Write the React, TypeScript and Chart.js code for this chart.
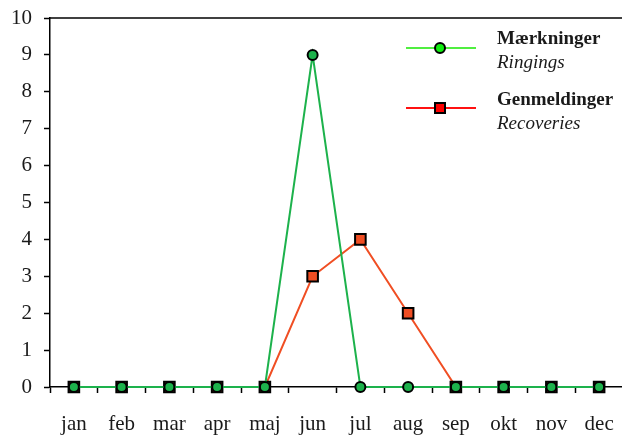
import React, { useEffect, useRef } from "react";
import Chart from "chart.js/auto";

const months = ["jan", "feb", "mar", "apr", "maj", "jun", "jul", "aug", "sep", "okt", "nov", "dec"];
const ringings = [0, 0, 0, 0, 0, 9, 0, 0, 0, 0, 0, 0];
const recoveries = [0, 0, 0, 0, 0, 3, 4, 2, 0, 0, 0, 0];
const yTicks = [0, 1, 2, 3, 4, 5, 6, 7, 8, 9, 10];

const FONT = "'Liberation Serif', 'DejaVu Serif', serif";
const GREEN = "#1db24c";
const RED = "#f04e23";

const framePlugin = {
  id: "frame",
  afterDraw(chart: any) {
    const { ctx, chartArea } = chart;
    ctx.save();
    ctx.strokeStyle = "#000";
    ctx.lineWidth = 1.5;
    ctx.beginPath();
    ctx.moveTo(chartArea.left, chartArea.top);
    ctx.lineTo(chartArea.right, chartArea.top);
    ctx.stroke();

    // custom legend
    const drawItem = (y: number, line: string, fill: string, shape: string, title: string, sub: string, ty: number) => {
      ctx.strokeStyle = line;
      ctx.lineWidth = 2;
      ctx.beginPath();
      ctx.moveTo(406, y);
      ctx.lineTo(476, y);
      ctx.stroke();
      ctx.fillStyle = fill;
      ctx.strokeStyle = "#000";
      ctx.lineWidth = 2;
      ctx.beginPath();
      if (shape === "circle") {
        ctx.arc(440, y, 5, 0, Math.PI * 2);
      } else {
        ctx.rect(435, y - 5, 10, 10);
      }
      ctx.fill();
      ctx.stroke();
      ctx.fillStyle = "#1a1a1a";
      ctx.textAlign = "left";
      ctx.textBaseline = "alphabetic";
      ctx.font = `bold 19px ${FONT}`;
      ctx.fillText(title, 497, ty);
      ctx.font = `italic 19px ${FONT}`;
      ctx.fillText(sub, 497, ty + 24);
    };
    drawItem(48, "#50ee40", "#11ee11", "circle", "Mærkninger", "Ringings", 44);
    drawItem(108, "#ff1111", "#ff0000", "rect", "Genmeldinger", "Recoveries", 105);
    ctx.restore();
  },
};

export default function App() {
  const ref = useRef<HTMLCanvasElement | null>(null);
  useEffect(() => {
    document.body.style.margin = "0";
    document.body.style.overflow = "hidden";
    const chart = new Chart(ref.current!, {
      type: "line",
      data: {
        labels: months,
        datasets: [
          {
            label: "Mærkninger",
            data: ringings,
            borderColor: GREEN,
            backgroundColor: GREEN,
            borderWidth: 2,
            pointStyle: "circle",
            pointRadius: 5,
            pointBorderColor: "#000",
            pointBorderWidth: 2,
            pointBackgroundColor: GREEN,
            tension: 0,
            clip: false,
          },
          {
            label: "Genmeldinger",
            data: recoveries,
            borderColor: RED,
            backgroundColor: RED,
            borderWidth: 2,
            pointStyle: "rect",
            pointRadius: 7.5,
            pointBorderColor: "#000",
            pointBorderWidth: 2,
            pointBackgroundColor: RED,
            tension: 0,
            clip: false,
          },
        ],
      },
      options: {
        responsive: false,
        animation: false,
        layout: { autoPadding: false, padding: { top: 18, right: 0, left: 0, bottom: 0 } },
        plugins: { legend: { display: false }, tooltip: { enabled: false } },
        scales: {
          x: {
            offset: true,
            grid: {
              offset: true,
              drawOnChartArea: false,
              drawTicks: true,
              tickLength: 6,
              tickWidth: 1.5,
              tickColor: "#000",
            },
            border: { display: true, color: "#000", width: 1.5 },
            ticks: {
              color: "#1a1a1a",
              font: { family: FONT, size: 21, lineHeight: 3 },
              padding: 0,
              maxRotation: 0,
              autoSkip: false,
            },
            afterFit: (s: any) => {
              s.height = 52;
              s.paddingLeft = 0;
              s.paddingRight = 0;
            },
          },
          y: {
            min: 0,
            max: 10,
            afterBuildTicks: (s: any) => {
              s.ticks = yTicks.map((v) => ({ value: v }));
            },
            grid: {
              drawOnChartArea: false,
              drawTicks: true,
              tickLength: 6,
              tickWidth: 1.5,
              tickColor: "#000",
            },
            border: { display: true, color: "#000", width: 1.5 },
            ticks: { color: "#1a1a1a", font: { family: FONT, size: 21 }, padding: 12 },
            afterFit: (s: any) => {
              s.width = 50;
              s.paddingTop = 0;
              s.paddingBottom = 0;
            },
          },
        },
      },
      plugins: [framePlugin],
    });
    return () => chart.destroy();
  }, []);
  return <canvas ref={ref} width={623} height={439} style={{ display: "block" }} />;
}
